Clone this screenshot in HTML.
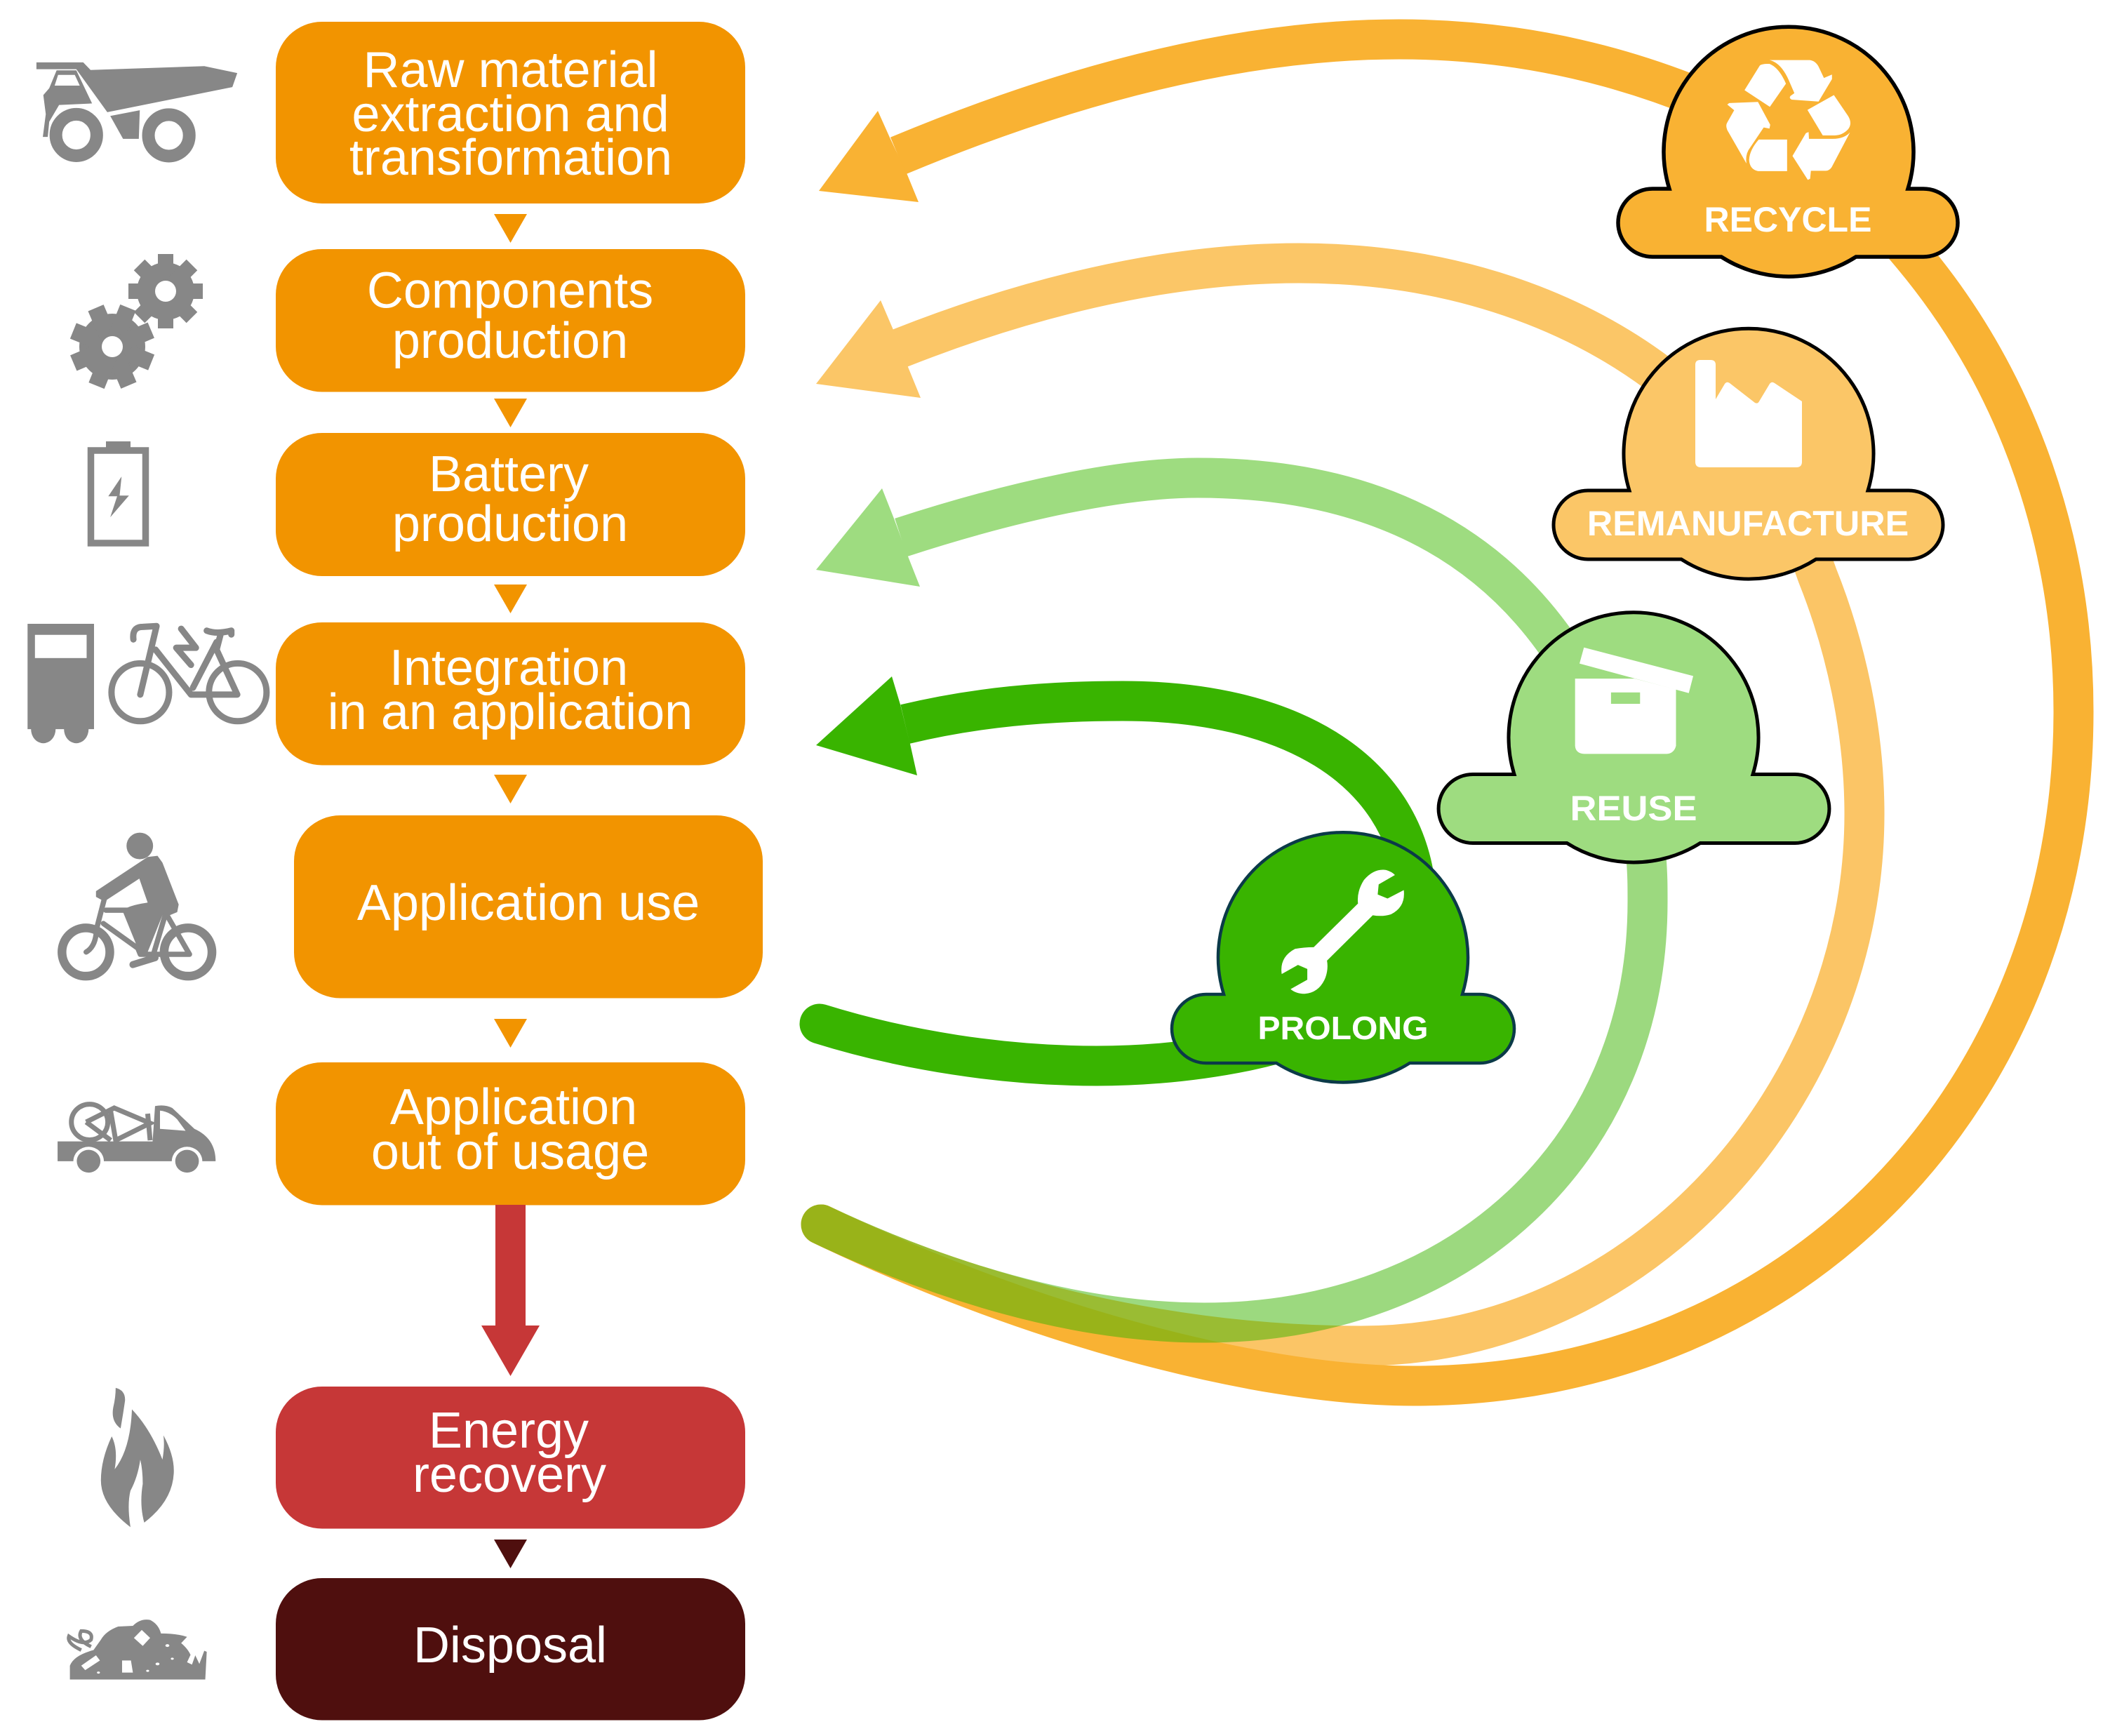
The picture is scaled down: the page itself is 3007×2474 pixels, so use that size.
<!DOCTYPE html>
<html><head><meta charset="utf-8"><style>html,body{margin:0;padding:0;background:#fff}svg{display:block}text{font-family:"Liberation Sans",sans-serif}.n *{vector-effect:non-scaling-stroke}</style></head>
<body>
<svg xmlns="http://www.w3.org/2000/svg" width="3007" height="2474" viewBox="0 0 3007 2474">
<rect width="3007" height="2474" fill="#fff"/>

<!-- connector curves -->
<g fill="none" stroke-width="57" stroke-linecap="round">
  <path stroke="#f9b233" stroke-opacity=".75" d="M1170 1745 C1400 1855 1680 1918 1940 1918 C2340 1918 2657 1560 2657 1160 C2657 1040 2630 920 2590 820 L2565 750"/>
  <path stroke="#fbc667" d="M2420 580 C2280 450 2080 375 1851 375 C1650 375 1450 430 1283 496" stroke-linecap="butt"/>
  <polygon points="1163,547 1255,428 1273,470 1294,523 1312,567" fill="#fbc667" stroke="none"/>
  <g stroke="#f9b233">
    <path d="M1170 1745 C1450 1880 1780 1975 2014 1975 C2560 1975 2955 1560 2955 1014 C2955 780 2880 550 2727 366 L2680 310"/>
    <path d="M2480 165 C2330 95 2170 56 1994 56 C1750 56 1500 130 1280 222" stroke-linecap="butt"/>
  </g>
  <polygon points="1167,272 1251,158 1268,196 1293,249 1309,288" fill="#f9b233" stroke="none"/>
  <path stroke="#39b400" stroke-opacity=".5" d="M1170 1745 C1340 1825 1530 1885 1716 1885 C2080 1885 2348 1640 2348 1285 C2348 1260 2348 1250 2346 1220"/>
  <path stroke="#9edc80" d="M2240 950 C2130 770 1950 681 1707 681 C1600 681 1450 712 1284 766" stroke-linecap="butt"/>
  <polygon points="1163,812 1257,696 1274,739 1294,793 1311,836" fill="#9edc80" stroke="none"/>
  <g stroke="#39b400">
    <path d="M1168 1459 C1290 1497 1430 1519 1563 1519 C1660 1519 1770 1505 1850 1478"/>
    <path d="M2018 1270 C2000 1090 1830 999 1600 999 C1490 999 1390 1008 1290 1032" stroke-linecap="butt"/>
  </g>
  <polygon points="1163,1062 1271,964 1283,1004 1297,1060 1307,1105" fill="#39b400" stroke="none"/>
</g>

<!-- process boxes -->
<g fill="#f29400">
  <rect x="393" y="31" width="669" height="259" rx="66" ry="65"/>
  <rect x="393" y="355" width="669" height="203.500" rx="66" ry="65"/>
  <rect x="393" y="617" width="669" height="204" rx="66" ry="65"/>
  <rect x="393" y="887" width="669" height="203.500" rx="66" ry="65"/>
  <rect x="419" y="1162" width="668" height="260.500" rx="66" ry="65"/>
  <rect x="393" y="1514" width="669" height="203.500" rx="66" ry="65"/>
  <polygon points="704,305 751,305 727.5,346"/>
  <polygon points="704,568 751,568 727.5,609"/>
  <polygon points="704,833 751,833 727.5,874"/>
  <polygon points="704,1104 751,1104 727.5,1145"/>
  <polygon points="704,1452 751,1452 727.5,1493"/>
</g>
<polygon fill="#c63737" points="706,1717 749,1717 749,1889 769,1889 727.5,1961 686,1889 706,1889"/>
<rect x="393" y="1976" width="669" height="202.500" rx="66" ry="65" fill="#c63737"/>
<polygon fill="#4f0f0e" points="704,2194 751,2194 727.5,2235"/>
<rect x="393" y="2249" width="669" height="202.500" rx="66" ry="65" fill="#4f0f0e"/>

<g fill="#fff" font-size="72" text-anchor="middle">
  <text x="727.500" y="124">Raw material</text>
  <text x="727.500" y="187">extraction and</text>
  <text x="728" y="249">transformation</text>
  <text x="727" y="438.500">Components</text>
  <text x="727" y="510">production</text>
  <text x="725" y="700">Battery</text>
  <text x="727" y="771">production</text>
  <text x="725" y="976">Integration</text>
  <text x="727" y="1039">in an application</text>
  <text x="753" y="1311">Application use</text>
  <text x="732" y="1602">Application</text>
  <text x="727" y="1666">out of usage</text>
  <text x="725" y="2063">Energy</text>
  <text x="726" y="2126">recovery</text>
  <text x="727" y="2369">Disposal</text>
</g>

<!-- badges -->
<path fill="#f9b233" stroke="#000" stroke-width="5.500" d="M2355 269 L2379 269 A178 178 0 1 1 2719 269 L2741 269 A49 48.500 0 0 1 2741 366 L2645 366 A178 178 0 0 1 2453 366 L2355 366 A49 48.500 0 0 1 2355 269 Z"/>
<text x="2548" y="330" fill="#fff" font-size="50" font-weight="bold" text-anchor="middle">RECYCLE</text>
<g transform="translate(2150,0) scale(.5466,.542)" fill="#fff">
  <path d="M615 237 L655 172 Q662 167 680 168 Q705 178 723 220 L681 281 Z"/>
  <path d="M680 158 L785 158 Q800 160 808 175 L822 205 L843 196 L843 208 L808 267 L738 262 Q730 258 735 252 L745 245 L730 210 Q710 165 680 158 Z"/>
  <path d="M779 289 L848 250 L885 305 Q897 325 885 340 Q870 356 850 356 L819 356 Z"/>
  <path d="M890 348 L842 440 Q835 450 825 449 L788 449 L786 470 L780 473 L740 410 L775 350 L782 347 L783 365 L845 365 Q875 365 890 348 Z"/>
  <path d="M726 367 L726 450 L650 450 Q628 445 627 420 Q628 395 652 367 Z"/>
  <path d="M620 430 L570 342 Q565 330 570 322 L588 290 L570 275 L575 271 L650 268 L682 328 L680 338 L665 335 L625 395 Q617 410 620 430 Z"/>
</g>

<path fill="#fbc667" stroke="#000" stroke-width="5" d="M2263 699 L2322 699 A178 178 0 1 1 2662 699 L2720 699 A49 49 0 0 1 2720 797 L2588 797 A178 178 0 0 1 2396 797 L2263 797 A49 49 0 0 1 2263 699 Z"/>
<text x="2491" y="763" fill="#fff" font-size="50.300" font-weight="bold" text-anchor="middle">REMANUFACTURE</text>
<path fill="#fff" d="M2416 520 Q2416 513 2423 513 L2438 513 Q2445 513 2445 520 L2445 569 L2458 547 Q2461 543 2465 546 L2501 574 Q2505 576 2507 572 L2522 547 Q2525 543 2529 546 L2568 572 L2568 658 Q2568 666 2560 666 L2424 666 Q2416 666 2416 658 Z"/>

<path fill="#9edc80" stroke="#000" stroke-width="5" d="M2099 1103.500 L2158 1103.500 A178 178 0 1 1 2498 1103.500 L2558 1103.500 A49 49 0 0 1 2558 1201.500 L2423 1201.500 A178 178 0 0 1 2233 1201.500 L2099 1201.500 A49 49 0 0 1 2099 1103.500 Z"/>
<text x="2328" y="1169" fill="#fff" font-size="50" font-weight="bold" text-anchor="middle" textLength="181" lengthAdjust="spacingAndGlyphs">REUSE</text>
<g transform="translate(1600,850) scale(.7015,.4783)" fill="#fff">
  <polygon points="937,152 1159,237 1150,288 928,200"/>
  <path d="M919 245 L1040 245 L1124 277 L1124 445 Q1120 468 1105 469 L938 469 Q920 468 919 445 Z"/>
  <rect x="992" y="286" width="59" height="34" fill="#9edc80"/>
</g>

<path fill="#39b400" stroke="#0b3a48" stroke-width="4.500" d="M1719 1417 L1744 1417 A178 178 0 1 1 2084 1417 L2109 1417 A49 49 0 0 1 2109 1515 L2009 1515 A178 178 0 0 1 1819 1515 L1719 1515 A49 49 0 0 1 1719 1417 Z"/>
<text x="1914" y="1481" fill="#fff" font-size="46" font-weight="bold" text-anchor="middle" textLength="243" lengthAdjust="spacingAndGlyphs">PROLONG</text>
<g transform="translate(1600,850) scale(.7015,.4783)" fill="#fff">
  <path d="M553 830 L520 858 L518 888 L538 900 L571 875 Q575 925 545 947 Q528 955 508 950 L415 1085 Q418 1110 412 1135 Q400 1180 370 1184 Q352 1184 341 1170 L375 1142 L375 1110 L356 1098 L323 1125 Q318 1075 350 1050 Q368 1045 388 1045 L478 915 Q475 880 490 845 Q510 810 535 815 Q547 820 553 830 Z"/>
</g>

<!-- grey icons -->
<g fill="#878787">
  <!-- dump truck -->
  <g transform="scale(.7015,.542)" class="n">
    <polygon points="74,164 169,164 184,184 415,174 482,192 472,229 218,295 155,182 74,182"/>
    <path d="M115 185 L155 185 L187 272 L120 276 L100 320 L97 360 L87 360 L93 300 L88 250 L100 232 Z"/>
    <polygon points="118,197 152,197 162,225 111,225" fill="#fff"/>
    <polygon points="224,305 284,290 282,365 250,365"/>
    <ellipse cx="155" cy="355" rx="41.500" ry="54.500" fill="#fff" stroke="#878787" stroke-width="18"/>
    <ellipse cx="343" cy="356" rx="41.500" ry="54.500" fill="#fff" stroke="#878787" stroke-width="18"/>
  </g>
  <!-- gears -->
  <g transform="translate(160,494)">
    <circle r="47"/>
    <g stroke="#878787" stroke-width="24">
      <line x1="-60" x2="60" transform="rotate(22)"/><line x1="-60" x2="60" transform="rotate(67)"/><line x1="-60" x2="60" transform="rotate(112)"/><line x1="-60" x2="60" transform="rotate(157)"/>
    </g>
    <circle r="15" fill="#fff"/>
  </g>
  <g transform="translate(236,415)">
    <circle r="44" fill="#fff"/>
    <circle r="41"/>
    <g stroke="#878787" stroke-width="22">
      <line x1="-53" x2="53"/><line x1="-53" x2="53" transform="rotate(45)"/><line x1="-53" x2="53" transform="rotate(90)"/><line x1="-53" x2="53" transform="rotate(135)"/>
    </g>
    <circle r="15" fill="#fff"/>
  </g>
  <!-- battery -->
  <rect x="129.500" y="642" width="78" height="132" fill="none" stroke="#878787" stroke-width="9.500"/>
  <rect x="151" y="629" width="35" height="9"/>
  <g transform="scale(.7015,.542)"><polygon points="247,1253 220,1305 238,1305 224,1360 262,1303 243,1303"/></g>
  <!-- bus + e-bike -->
  <g transform="translate(0,850) scale(.7015,.542)" class="n">
    <path d="M56 72 L191 72 L191 349 L180 349 A25 37 0 0 1 130 349 L113 349 A25 37 0 0 1 63 349 L56 349 Z"/>
    <rect x="71" y="101" width="105" height="61" fill="#fff"/>
    <g fill="none" stroke="#878787" stroke-width="9" stroke-linecap="round" stroke-linejoin="round">
      <ellipse cx="285" cy="252" rx="58.500" ry="76"/>
      <ellipse cx="483" cy="252" rx="58.500" ry="76"/>
      <path d="M271 113 Q268 80 290 80 L318 78 L285 258"/>
      <path d="M316 140 L388 258 L482 258 L440 140 L448 100"/>
      <path d="M392 240 L440 120"/>
      <path d="M420 90 Q440 100 470 90 L470 100"/>
      <path d="M368 85 L398 135 L358 135 L388 180"/>
    </g>
  </g>
  <!-- cyclist -->
  <g transform="translate(0,850) scale(.7015,.542)" class="n">
    <ellipse cx="284" cy="656" rx="27" ry="35"/>
    <path d="M300 685 L320 682 L330 700 L363 810 L360 830 L345 838 L330 838 L300 935 L283 935 L250 830 Q250 815 300 805 L283 742 L212 802 L195 790 L195 775 Z"/>
    <g fill="none" stroke="#878787" stroke-width="12.500" stroke-linecap="round" stroke-linejoin="round">
      <ellipse cx="174.500" cy="935" rx="48.600" ry="63.500"/>
      <ellipse cx="382" cy="935" rx="48.600" ry="63.500"/>
    </g>
    <g fill="none" stroke="#878787" stroke-width="7.500" stroke-linecap="round" stroke-linejoin="round">
      <path d="M212 795 L196 875 Q195 920 175 935"/>
      <path d="M210 860 L280 925 L285 941 L385 941 L340 840"/>
      <path d="M312 940 L335 840"/>
      <path d="M215 825 L260 825"/>
      <path d="M270 968 L315 950" stroke-width="10"/>
    </g>
  </g>
  <!-- pickup with bike -->
  <g transform="translate(0,850) scale(.7015,.542)" class="n">
    <path d="M117 1433 L310 1433 L315 1340 Q335 1335 350 1345 L395 1400 Q438 1425 438 1485 L117 1485 Z"/>
    <path d="M325 1352 Q345 1355 360 1375 L377 1405 L325 1400 Z" fill="#fff"/>
    <ellipse cx="180" cy="1485" rx="31" ry="38" fill="#fff"/>
    <ellipse cx="380" cy="1485" rx="31" ry="38" fill="#fff"/>
    <ellipse cx="180" cy="1485" rx="24" ry="30"/>
    <ellipse cx="380" cy="1485" rx="24" ry="30"/>
    <g fill="none" stroke="#878787" stroke-width="7">
      <ellipse cx="182" cy="1382" rx="37" ry="47"/>
      <path d="M175 1382 L232 1345 L305 1385 L235 1430 L225 1355"/>
      <path d="M175 1382 L225 1430"/>
      <path d="M300 1360 L305 1430"/>
    </g>
  </g>
  <!-- flame and waste pile -->
  <g transform="translate(0,1700) scale(.7015,.4936)" class="n">
    <path d="M235 563 Q255 570 254 600 Q250 640 245 680 Q225 660 230 620 Q235 590 235 563 Z"/>
    <path d="M268 625 Q305 680 330 770 Q335 730 332 700 Q355 760 353 810 Q350 890 293 952 Q283 900 290 840 Q290 800 285 770 Q280 820 265 860 Q258 900 265 965 Q205 900 205 830 Q205 770 227 703 Q240 740 233 798 Q265 740 268 625 Z"/>
    <path d="M142 1405 L142 1365 Q150 1335 190 1320 L205 1290 Q215 1265 240 1252 L270 1250 Q285 1228 305 1233 Q322 1245 327 1272 Q360 1272 380 1282 L368 1300 Q385 1320 390 1345 L395 1330 L405 1360 L415 1322 L420 1325 L417 1405 Z"/>
    <g fill="#fff">
      <polygon points="272,1285 288,1262 305,1285 290,1308"/>
      <polygon points="165,1365 195,1335 203,1350 173,1378"/>
      <polygon points="248,1350 266,1350 270,1385 248,1385"/>
      <polygon points="380,1355 390,1325 398,1330 390,1362"/>
      <circle cx="340" cy="1307" r="4"/><circle cx="320" cy="1360" r="4"/><circle cx="350" cy="1345" r="3"/><circle cx="300" cy="1380" r="3"/><circle cx="200" cy="1385" r="3"/>
    </g>
    <path d="M165 1320 Q135 1300 140 1280 Q170 1310 185 1290 Q190 1265 165 1265 Q155 1290 185 1310" fill="none" stroke="#878787" stroke-width="5"/>
  </g>
</g>
</svg>
</body></html>
